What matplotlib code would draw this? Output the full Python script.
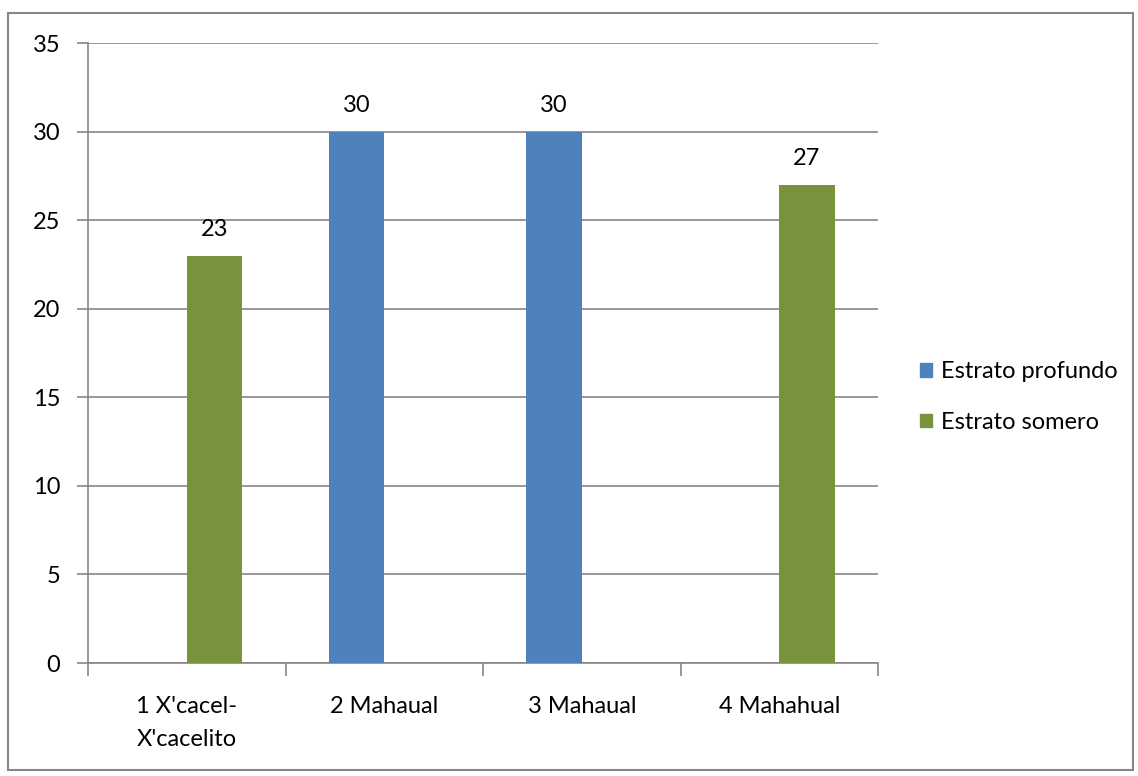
import numpy as np
import matplotlib.pyplot as plt
from matplotlib.patches import Rectangle

plt.rcParams['font.family'] = ['Lato', 'DejaVu Sans']

sitios = ["1 X'cacel-\nX'cacelito", "2 Mahaual", "3 Mahaual", "4 Mahahual"]
profundo = [0, 30, 30, 0]
somero = [23, 0, 0, 27]
series = ["Estrato profundo", "Estrato somero"]
colores = ["#4f81bd", "#77933c"]
gris = "#868686"
fs = 17

W, H = 1138, 776
fig = plt.figure(figsize=(W / 100, H / 100), dpi=100)
ax = fig.add_axes([88 / W, 113 / H, 790 / W, 620 / H])

x = np.arange(len(sitios))
ancho = 0.28
for vals, off, nombre, col in zip([profundo, somero], [-ancho / 2, ancho / 2], series, colores):
    b = ax.bar(x + off, vals, ancho, color=col, label=nombre, zorder=3)
    for rect, v in zip(b, vals):
        if v:
            ax.text(rect.get_x() + rect.get_width() / 2, v + 0.9, str(v),
                    ha='center', va='bottom', fontsize=fs)

ax.set_xlim(-0.5, len(sitios) - 0.5)
ax.set_ylim(0, 35)
ax.set_yticks(range(0, 36, 5))
ax.yaxis.grid(True, color=gris, lw=1.2, zorder=0)
ax.tick_params(axis='y', length=8, color=gris, width=1.2, labelsize=fs, pad=12)

# category separators as major ticks, names as minor ticks
ax.set_xticks(np.arange(-0.5, len(sitios), 1.0))
ax.set_xticklabels([])
ax.set_xticks(x, minor=True)
ax.set_xticklabels(sitios, minor=True, fontsize=fs, linespacing=1.7)
ax.tick_params(axis='x', which='major', length=9, color=gris, width=1.2)
ax.tick_params(axis='x', which='minor', length=0, pad=24)

for s in ['top', 'right']:
    ax.spines[s].set_visible(False)
for s in ['left', 'bottom']:
    ax.spines[s].set_color(gris)
    ax.spines[s].set_linewidth(1.2)

handles = [Rectangle((0, 0), 1, 1, color=c) for c in colores]
fig.legend(handles, series, loc='center left', bbox_to_anchor=(920 / W, 1 - 397 / H),
           frameon=False, fontsize=fs, handlelength=0.5, handleheight=0.5,
           handletextpad=0.4, labelspacing=1.25, borderpad=0, borderaxespad=0)

fig.patches.append(Rectangle((8 / W, 6 / H), 1125 / W, 757 / H, transform=fig.transFigure,
                             fill=False, edgecolor=gris, lw=1.5))

fig.savefig('out.png', dpi=100)
